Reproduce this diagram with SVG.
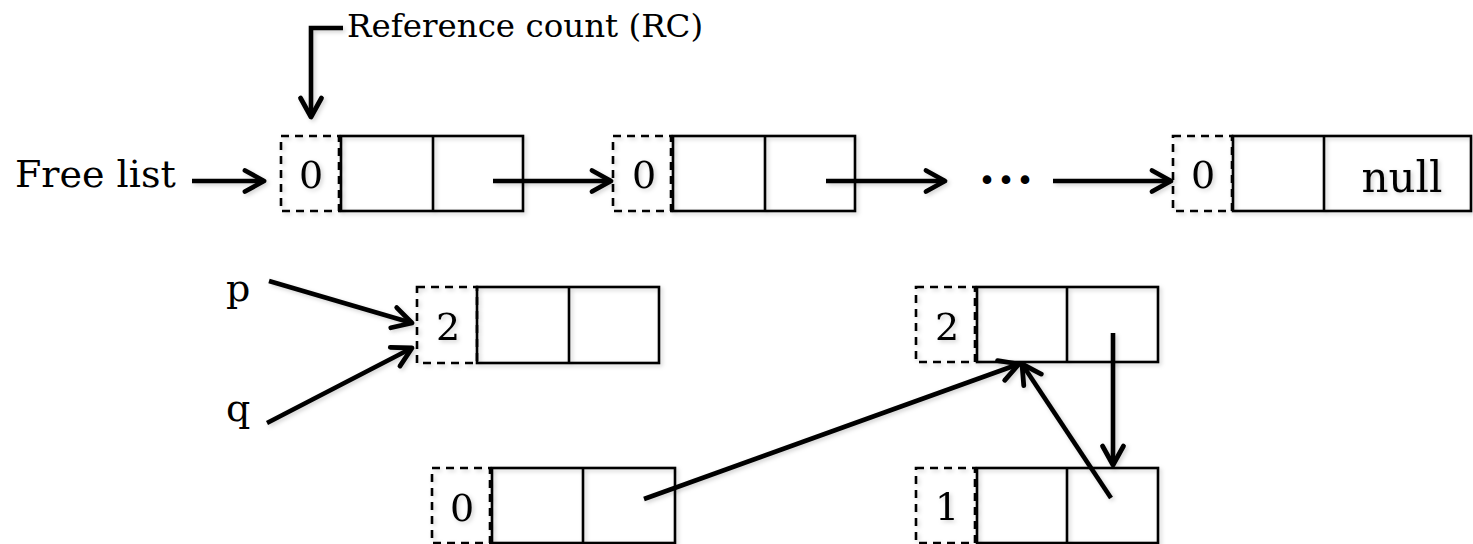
<svg xmlns="http://www.w3.org/2000/svg" width="1473" height="544" viewBox="0 0 1473 544">
  <style>
    .cell { fill: none; stroke: #000; stroke-width: 2.6; }
    .rc { fill: none; stroke: #000; stroke-width: 2.6; stroke-dasharray: 8 6; }
    .wire { fill: none; stroke: #000; stroke-width: 4.6; stroke-linecap: butt; }
    .lbl { font-family: "DejaVu Serif", "Liberation Serif", serif; fill: #000; }
    .num { font-family: "DejaVu Serif", "Liberation Serif", serif; font-size: 38px; text-anchor: middle; fill: #000; }
  </style>
  <defs>
    <marker id="head" markerUnits="userSpaceOnUse" viewBox="-24 -14 28 28" markerWidth="28" markerHeight="28" refX="0" refY="0" orient="auto" overflow="visible">
      <path d="M-19,-10.5 L0,0 L-19,10.5" fill="none" stroke="#000" stroke-width="4.8" stroke-linecap="round" stroke-linejoin="round"/>
    </marker>
    <filter id="soft" x="-10%" y="-10%" width="130%" height="140%">
      <feDropShadow dx="2" dy="2" stdDeviation="2" flood-color="#000" flood-opacity="0.18"/>
    </filter>
  </defs>

  <!-- labels -->
  <g id="labels">
    <text class="lbl" x="347" y="37" font-size="32.5">Reference count (RC)</text>
    <text class="lbl" x="15" y="187" font-size="38">Free list</text>
    <text class="lbl" x="226" y="301" font-size="38">p</text>
    <text class="lbl" x="226" y="421" font-size="38">q</text>
    <text class="lbl" x="987 1006 1025" y="196" font-size="46" font-weight="bold" text-anchor="middle">···</text>
  </g>

  <!-- free list cells -->
  <g id="free1" filter="url(#soft)">
    <rect class="rc" x="281" y="136" width="58" height="75"/>
    <rect class="cell" x="341" y="136" width="182" height="75"/>
    <line class="cell" x1="433" y1="136" x2="433" y2="211"/>
    <text class="num" x="311" y="188">0</text>
  </g>
  <g id="free2" filter="url(#soft)">
    <rect class="rc" x="613" y="136" width="58" height="75"/>
    <rect class="cell" x="673" y="136" width="182" height="75"/>
    <line class="cell" x1="765" y1="136" x2="765" y2="211"/>
    <text class="num" x="644" y="188">0</text>
  </g>
  <g id="free3" filter="url(#soft)">
    <rect class="rc" x="1173" y="136" width="59" height="75"/>
    <rect class="cell" x="1233" y="136" width="238" height="75"/>
    <line class="cell" x1="1324" y1="136" x2="1324" y2="211"/>
    <text class="num" x="1203" y="188">0</text>
    <text class="lbl" x="1402" y="192" font-size="42" text-anchor="middle">null</text>
  </g>

  <!-- cell shared by p and q -->
  <g id="cellPQ" filter="url(#soft)">
    <rect class="rc" x="417" y="287" width="60" height="76"/>
    <rect class="cell" x="477" y="287" width="182" height="76"/>
    <line class="cell" x1="569" y1="287" x2="569" y2="363"/>
    <text class="num" x="448" y="340">2</text>
  </g>

  <!-- cyclic pair plus one unreachable cell -->
  <g id="cellA" filter="url(#soft)">
    <rect class="rc" x="916" y="287" width="59" height="75"/>
    <rect class="cell" x="977" y="287" width="181" height="75"/>
    <line class="cell" x1="1067" y1="287" x2="1067" y2="362"/>
    <text class="num" x="947" y="340">2</text>
  </g>
  <g id="cellB" filter="url(#soft)">
    <rect class="rc" x="432" y="468" width="58" height="75"/>
    <rect class="cell" x="492" y="468" width="183" height="75"/>
    <line class="cell" x1="583" y1="468" x2="583" y2="543"/>
    <text class="num" x="462" y="521">0</text>
  </g>
  <g id="cellC" filter="url(#soft)">
    <rect class="rc" x="916" y="468" width="59" height="75"/>
    <rect class="cell" x="977" y="468" width="181" height="75"/>
    <line class="cell" x1="1067" y1="468" x2="1067" y2="543"/>
    <text class="num" x="947" y="520">1</text>
  </g>

  <!-- pointers -->
  <g id="connectors" filter="url(#soft)">
    <polyline class="wire" points="343,28 311,28 311,117" marker-end="url(#head)"/>
    <line class="wire" x1="192" y1="181" x2="264" y2="181" marker-end="url(#head)"/>
    <line class="wire" x1="493" y1="181" x2="611" y2="181" marker-end="url(#head)"/>
    <line class="wire" x1="826" y1="181" x2="945" y2="181" marker-end="url(#head)"/>
    <line class="wire" x1="1053" y1="181" x2="1171" y2="181" marker-end="url(#head)"/>
    <line class="wire" x1="269" y1="281" x2="412" y2="323" marker-end="url(#head)"/>
    <line class="wire" x1="267" y1="423" x2="412" y2="348" marker-end="url(#head)"/>
    <line class="wire" x1="644" y1="499" x2="1019" y2="364" marker-end="url(#head)"/>
    <line class="wire" x1="1111" y1="498" x2="1022" y2="364" marker-end="url(#head)"/>
    <line class="wire" x1="1113" y1="333" x2="1113" y2="465" marker-end="url(#head)"/>
  </g>
</svg>
